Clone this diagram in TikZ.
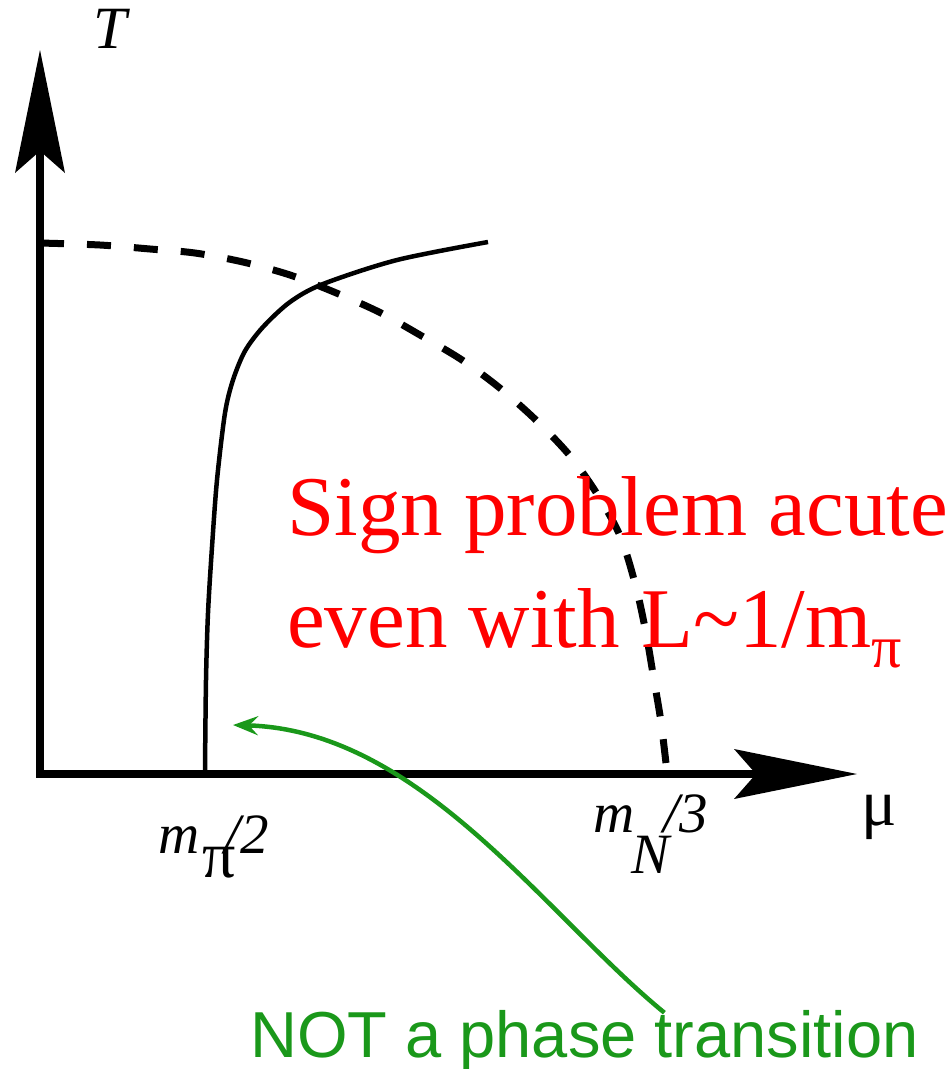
\documentclass[tikz,border=0pt]{standalone}
\usepackage{fontspec}
\setmainfont{Liberation Serif}
\newfontfamily\arialfont{Liberation Sans}
\usepackage{tikz}
\usetikzlibrary{positioning,arrows.meta,calc}
\usepackage{xcolor}
\definecolor{signred}{RGB}{255,0,0}
\definecolor{noteGreen}{RGB}{26,152,26}

\begin{document}
\begin{tikzpicture}[x=1pt, y=-1pt,
    axisLine/.style={line width=8pt, -{Stealth[length=123pt, width=50pt, inset=22pt, line width=0pt]}},
    phaseLine/.style={line width=4.5pt, black},
    crossLine/.style={line width=7pt, black, dash pattern=on 24pt off 23pt},
    axisLab/.style={inner sep=0pt, font=\fontsize{57}{57}\selectfont\itshape},
    signText/.style={inner sep=0pt, text=signred, font=\fontsize{85}{112}\selectfont},
    noteText/.style={inner sep=0pt, text=noteGreen, font=\arialfont\fontsize{65}{65}\selectfont},
    noteArrow/.style={-{Stealth[length=25pt, width=19pt, inset=9pt]}, line width=4.5pt, draw=noteGreen}
]
    \useasboundingbox (0,0) rectangle (951,1069);

    % axes
    \coordinate (O) at (40,774);
    \coordinate (Ttip) at (40,50);
    \coordinate (Mtip) at (857,774);
    \draw[axisLine] (O) -- (Ttip);
    \draw[axisLine] ([xshift=-4pt]O) -- (Mtip);

    \node[inner sep=0pt, anchor=base, font=\fontsize{60}{60}\selectfont\itshape] (tLab) at (110,48) {T};
    \node[inner sep=0pt, anchor=base, font=\fontsize{66}{66}\selectfont] (muLab) at (879,825) {μ};

    \node[axisLab, anchor=base west] (mPi) at (158,853) {m\kern3pt\raisebox{-24pt}{\fontsize{66}{66}\selectfont\upshape π}\kern-11pt/2};
    \node[axisLab, anchor=base west] (mN) at (593,832) {m\kern-3pt\raisebox{-41pt}{N}\kern-6pt/3};

    % crossover (dashed) and the other line
    \draw[crossLine] plot[smooth] coordinates {(40,243) (100,245) (150,249) (195,253) (243,262) (290,275) (334,292)
        (379,312) (420,335) (462,360) (501,389) (538,422) (571,457) (599,497) (621,538) (636,587)
        (646,633) (654,680) (661,722) (667,772)};
    \draw[phaseLine] plot[smooth] coordinates {(205,770) (206,680) (208,613) (212,547) (217,480) (225,413)
        (233,380) (245,351) (263,327) (290,302) (323,284) (397,260) (488,242)};

    % red text
    \node[signText, anchor=base west] (sign1) at (287,535) {Sign problem acute};
    \node[signText, anchor=base west] (sign2) at (287,647) {even with L\textasciitilde1/m\raisebox{-20pt}{\fontsize{60}{60}\selectfont π}};

    % green note
    \node[noteText, anchor=base west] (notePt) at (250,1057) {NOT a phase transition};
    \coordinate (noteTip) at (233,725);
    \draw[noteArrow] ([xshift=80pt,yshift=-3pt]notePt.north) .. controls (545,915) and (420,730) .. (noteTip);
\end{tikzpicture}
\end{document}
